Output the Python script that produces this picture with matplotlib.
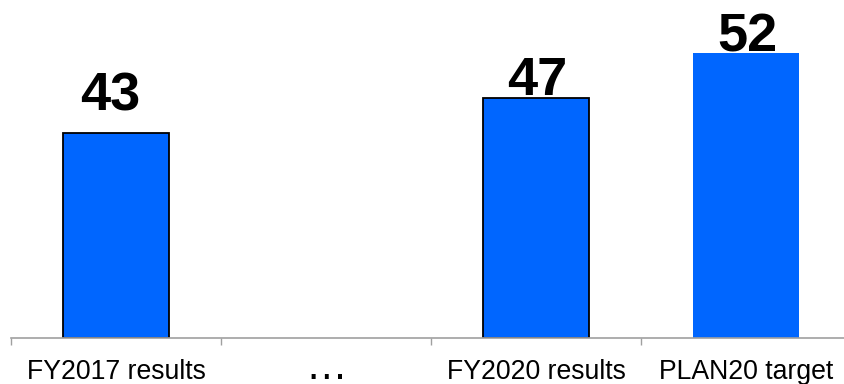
import matplotlib.pyplot as plt

# Bar data
categories = ['FY2017 results', '\u2026', 'FY2020 results', 'PLAN20 target']
values = [43, None, 47, 52]
outlined = [True, False, True, False]

plt.rcParams['font.family'] = ['Liberation Sans', 'DejaVu Sans']

fig = plt.figure(figsize=(8.44, 3.84), dpi=100)
ax = fig.add_axes([11 / 844, 1 - 338 / 384, 840 / 844, 338 / 384])

bar_color = '#0066ff'
# offsets (points) for the value labels above each bar
label_off = [(-4, 16.5), (0, 0), (1, 2), (1, 1.5)]
for i, v in enumerate(values):
    if v is None:
        continue
    ax.bar(i, v - 20, bottom=20, width=0.505, color=bar_color,
           edgecolor='black' if outlined[i] else 'none',
           linewidth=1.3 if outlined[i] else 0, zorder=2)
    ax.annotate(str(v), (i, v), xytext=label_off[i], textcoords='offset points',
                ha='center', va='baseline', fontsize=39, fontweight='bold')

ax.set_xlim(-0.5, 3.5)
ax.set_ylim(20, 58)

# category separators as ticks
ax.set_xticks([-0.5, 0.5, 1.5, 2.5, 3.5])
ax.set_xticklabels([])
ax.tick_params(axis='x', which='major', direction='out', length=5, width=1, color='#a0a0a0')
ax.set_yticks([])

# category names, all on one baseline below the axis
for i, name in enumerate(categories):
    size = 30 if name == '\u2026' else 19.2
    ax.annotate(name, (i, 0), xycoords=('data', 'axes fraction'),
                xytext=(0, -29.5), textcoords='offset points',
                ha='center', va='baseline', fontsize=size, annotation_clip=False)

for side in ['left', 'right', 'top']:
    ax.spines[side].set_visible(False)
ax.spines['bottom'].set_color('#a0a0a0')
ax.spines['bottom'].set_linewidth(1.2)

fig.savefig('out.png', dpi=100)
